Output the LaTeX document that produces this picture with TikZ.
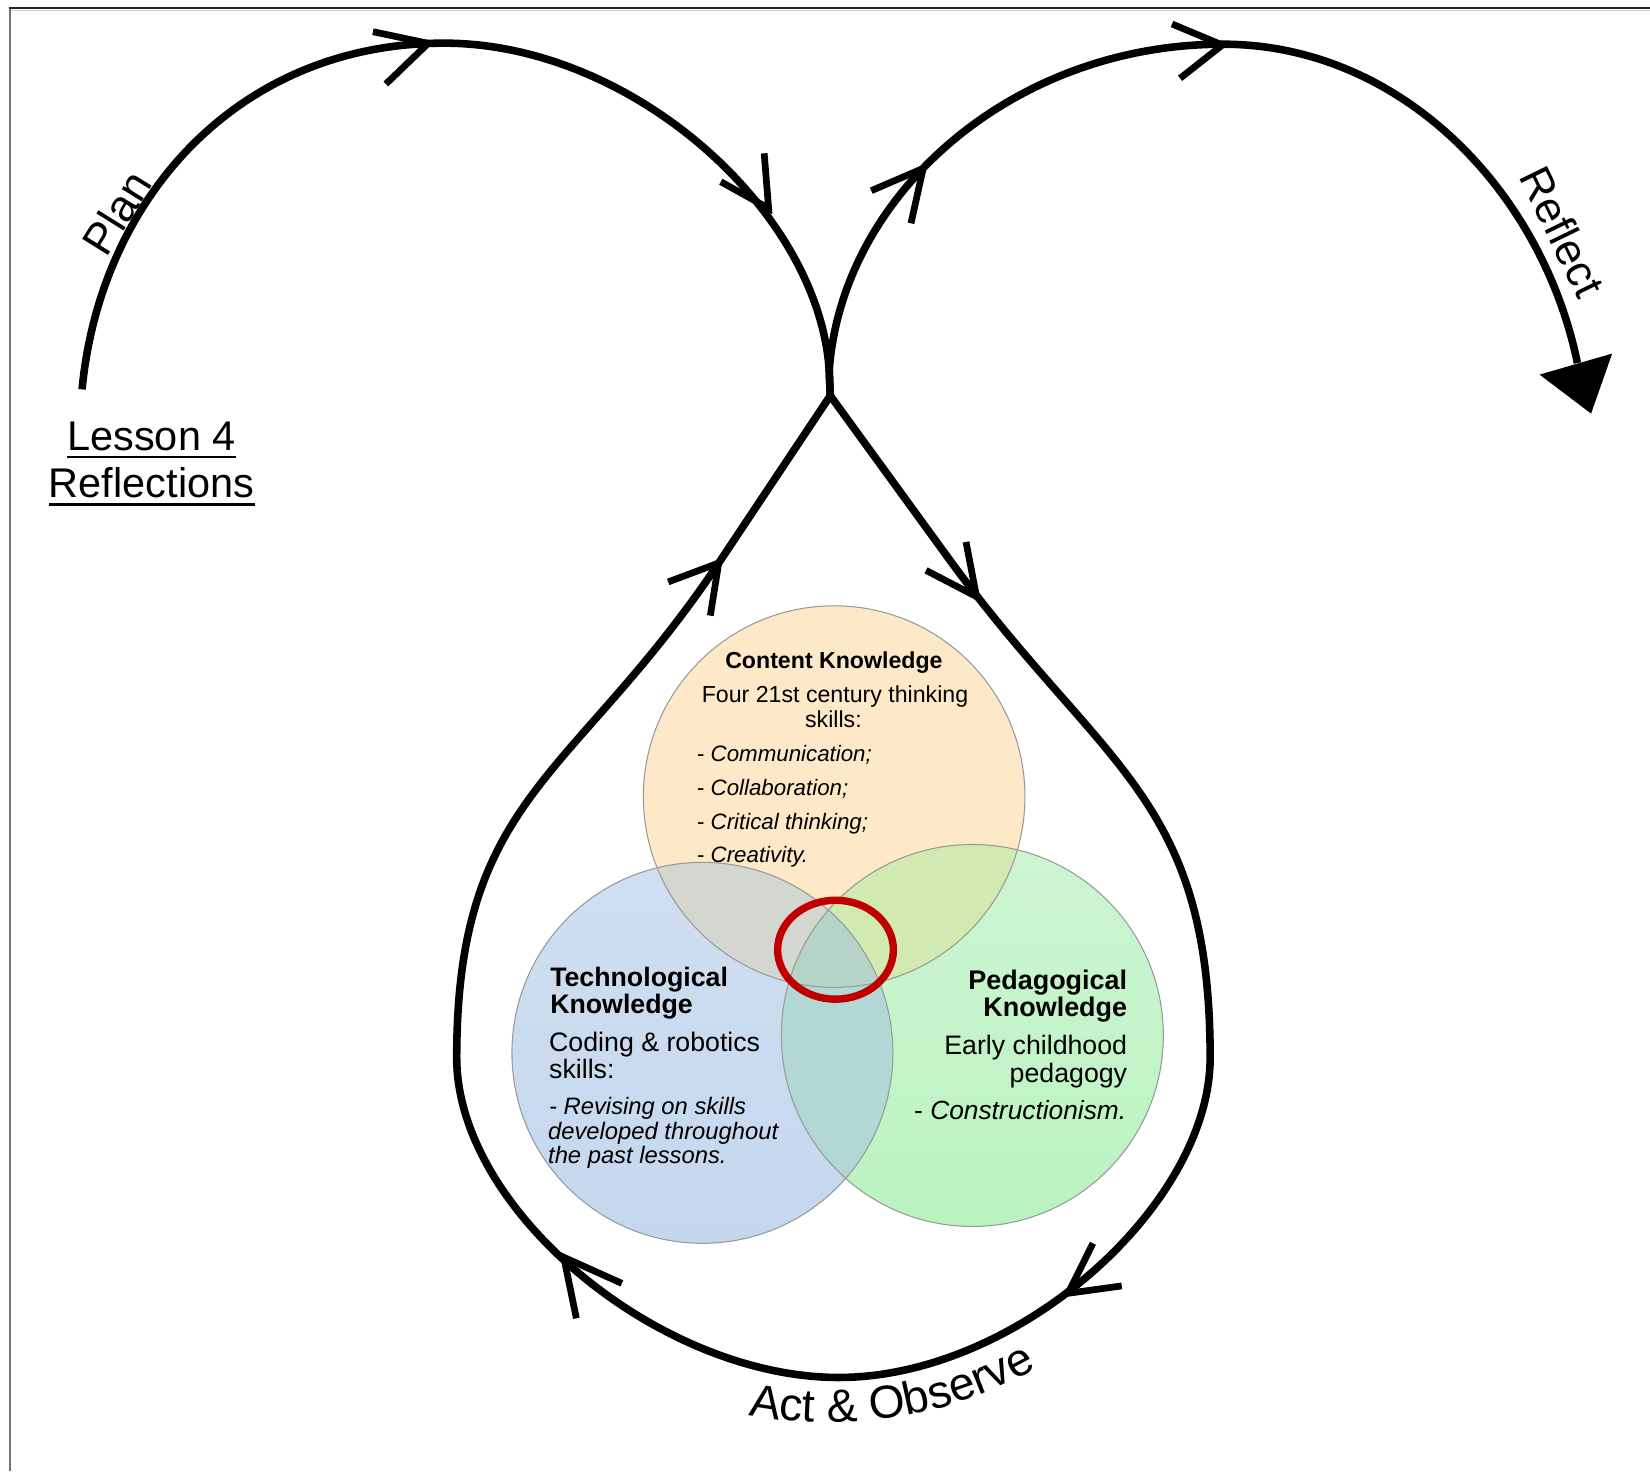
\documentclass[tikz,border=0pt]{standalone}
\usepackage{fontspec}
\setmainfont{Liberation Sans}
\usetikzlibrary{decorations.text}
\definecolor{cO}{HTML}{FDE8C8}
\definecolor{cBt}{HTML}{D0DFF0}
\definecolor{cBb}{HTML}{C4D7EE}
\definecolor{cGt}{HTML}{CDF5D2}
\definecolor{cGb}{HTML}{BAF3BF}
\definecolor{cOB}{HTML}{D4D6D0}
\definecolor{cOG}{HTML}{D1EAB1}
\definecolor{cBG}{HTML}{B2D8D5}
\definecolor{cOBG}{HTML}{B5D3C7}
\definecolor{redring}{HTML}{C00000}
\newcommand{\fz}[1]{\fontsize{#1}{#1}\selectfont}
\begin{document}
\begin{tikzpicture}[x=0.5pt,y=-0.5pt,
  curve/.style={line width=3.6pt, line join=round},
  barb/.style={line width=3.2pt},
  lbl/.style={inner sep=0pt, font=\fz{21}},
  vennline/.style={draw=black!40, line width=0.5pt},
  txt/.style={inner sep=0pt}]
\useasboundingbox (0,0) rectangle (1568,1398);
\fill[white] (0,0) rectangle (1568,1398);
% frame
\draw[line width=1pt, black!55] (9.5,1398) -- (9.5,8);
\draw[line width=1pt, black!85] (9,8) -- (1568,8);
\draw[line width=0.6pt, black!20] (10.5,9.8) -- (1568,9.8);

% Venn circles
\coordinate (cc) at (792.7,757);
\coordinate (tc) at (667.5,1000.5);
\coordinate (pc) at (924,984);
\shade[top color=cBt, bottom color=cBb] (tc) circle[radius=181];
\shade[top color=cGt, bottom color=cGb] (pc) circle[radius=181.5];
\fill[cO] (cc) circle[radius=181.3];
\begin{scope}\clip (cc) circle[radius=181.3]; \fill[cOB] (tc) circle[radius=181];\end{scope}
\begin{scope}\clip (cc) circle[radius=181.3]; \fill[cOG] (pc) circle[radius=181.5];\end{scope}
\begin{scope}\clip (tc) circle[radius=181]; \fill[cBG] (pc) circle[radius=181.5];\end{scope}
\begin{scope}\clip (cc) circle[radius=181.3]; \clip (tc) circle[radius=181]; \fill[cOBG] (pc) circle[radius=181.5];\end{scope}
\draw[vennline] (tc) circle[radius=181];
\draw[vennline] (pc) circle[radius=181.5];
\draw[vennline] (cc) circle[radius=181.3];

% Content knowledge text
\node[txt, anchor=base, font=\fz{11}\bfseries] (ck) at (792.5,635) {Content Knowledge};
\node[txt, anchor=base, font=\fz{11}] (ck1) at (793.5,668) {Four 21st century thinking};
\node[txt, anchor=base, font=\fz{11}] (ck2) at (792,691) {skills:};
\node[txt, anchor=base west, font=\fz{10.6}] (ck3) at (662,724) {- \textit{Communication;}};
\node[txt, anchor=base west, font=\fz{10.6}] (ck4) at (662,755.5) {- \textit{Collaboration;}};
\node[txt, anchor=base west, font=\fz{10.6}] (ck5) at (662,788) {- \textit{Critical thinking;}};
\node[txt, anchor=base west, font=\fz{10.6}] (ck6) at (662,820) {- \textit{Creativity.}};

% Technological knowledge text
\node[txt, anchor=base west, font=\fz{12.7}\bfseries] (tk) at (522.5,937) {Technological};
\node[txt, anchor=base west, font=\fz{12.7}\bfseries] (tk0) at (522.5,963.5) {Knowledge};
\node[txt, anchor=base west, font=\fz{12.7}] (tk1) at (521.5,999.5) {Coding \& robotics};
\node[txt, anchor=base west, font=\fz{12.7}] (tk2) at (521.5,1024.5) {skills:};
\node[txt, anchor=base west, font=\fz{11.3}\itshape] (tk3) at (521.5,1059.5) {- Revising on skills};
\node[txt, anchor=base west, font=\fz{11.3}\itshape] (tk4) at (520.5,1082.5) {developed throughout};
\node[txt, anchor=base west, font=\fz{11.3}\itshape] (tk5) at (520.5,1106) {the past lessons.};

% Pedagogical knowledge text
\node[txt, anchor=base east, font=\fz{12.8}\bfseries] (pk) at (1071.5,940) {Pedagogical};
\node[txt, anchor=base east, font=\fz{12.8}\bfseries] (pk0) at (1071.5,966) {Knowledge};
\node[txt, anchor=base east, font=\fz{12.7}] (pk1) at (1071.5,1002.5) {Early childhood};
\node[txt, anchor=base east, font=\fz{12.7}] (pk2) at (1071.5,1029) {pedagogy};
\node[txt, anchor=base east, font=\fz{12.5}] (pk3) at (1070.6,1064) {- \textit{Constructionism.}};

% red ring
\coordinate (ring) at (794,902.5);
\draw[redring, line width=3.5pt] (ring) ellipse[x radius=55, y radius=47];

% main path
\coordinate (X) at (789,376);
\coordinate (Xt) at (788,352);
\coordinate (S) at (78,370);
\coordinate (T1) at (422,41);
\coordinate (T2) at (1162,42);
\coordinate (E) at (1499,345);
\coordinate (NR) at (900,528.7);
\coordinate (R) at (1150,1005);
\coordinate (B) at (797,1309);
\coordinate (L) at (434,1005);
\coordinate (NL) at (684.3,533.1);
\draw[curve] (S) .. controls (95,190) and (225,41) .. (T1)
  .. controls (600,41) and (778,200) .. (Xt) -- (X);
\draw[curve] (X) -- (NR) .. controls (1047,731) and (1150,755) .. (R)
  .. controls (1150,1145) and (967,1309) .. (B)
  .. controls (627,1309) and (434,1150) .. (L)
  .. controls (434,755) and (545.6,741.1) .. (NL) -- (X);
\draw[curve] (X) -- (Xt) .. controls (800,185) and (962,42) .. (T2)
  .. controls (1330,42) and (1465,180) .. (E);
\fill (1463,356) -- (1532,336) -- (1512,393) -- cycle;

% chevrons
\draw[barb] (354.4,30.1) -- (406.9,41.2) -- (366.7,79.8);
\draw[barb] (685,172.7) -- (730.4,198) -- (726.2,145.7);
\draw[barb] (828,181.2) -- (877.3,160) -- (865.7,212.2);
\draw[barb] (1113.8,22.8) -- (1161.6,42.8) -- (1121.4,74.4);
\draw[barb] (880,542) -- (928,567) -- (918,515);
\draw[barb] (1066,1222) -- (1015,1229) -- (1038.6,1181.5);
\draw[barb] (591,1219.6) -- (535.8,1194.8) -- (547.7,1252.8);
\draw[barb] (635,553) -- (683,535) -- (675,585);

% labels
\node[lbl, rotate=58] (plan) at (111,202) {Plan};
\node[lbl, rotate=-64] (refl) at (1485,220) {Reflect};
\node[txt, anchor=base, font=\fz{19.7}] (L1) at (144,428) {Lesson 4};
\node[txt, anchor=base, font=\fz{19.7}] (L2) at (144,472.6) {Reflections};
\draw[line width=1.1pt] ([yshift=-3.2pt]L1.base west) -- ([yshift=-3.2pt]L1.base east);
\draw[line width=1.1pt] ([yshift=-3.4pt]L2.base west) -- ([yshift=-3.4pt]L2.base east);
\coordinate (ac) at (788,952);
\path[decorate, decoration={text along path, text={|\fz{22}|Act {\&} Observe}, text align={left}}]
  (ac) ++(101.1:400) arc[start angle=101.1, end angle=50, radius=400];
\end{tikzpicture}
\end{document}
